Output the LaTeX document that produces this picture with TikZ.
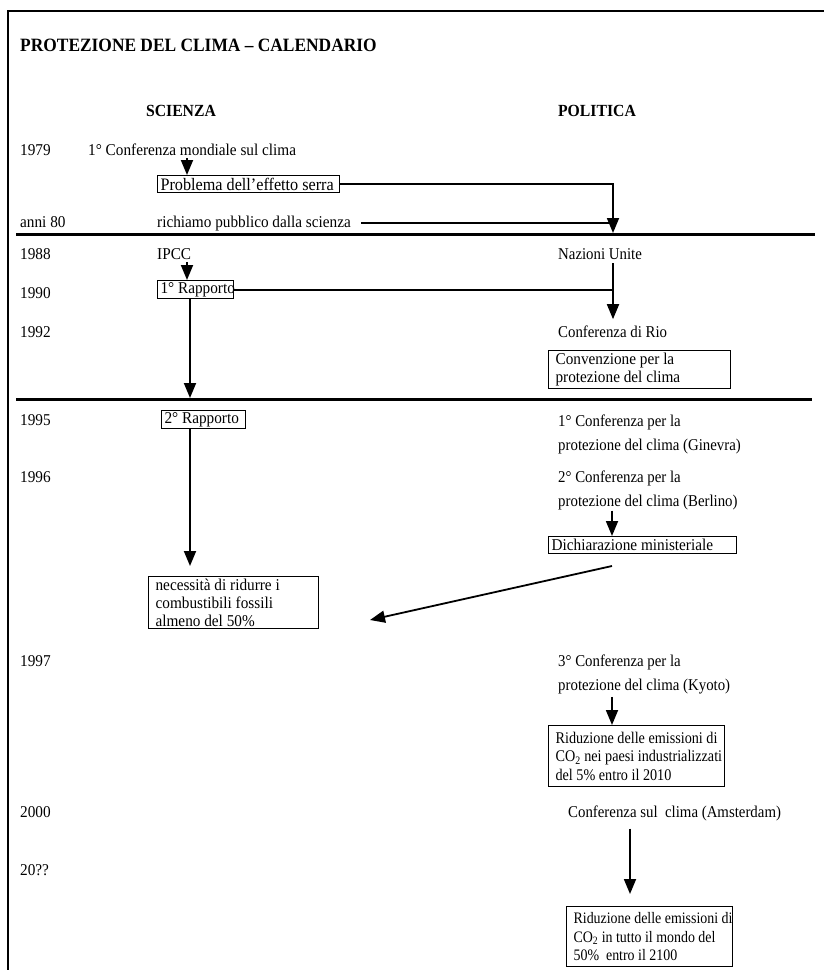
\documentclass[tikz,border=0pt]{standalone}
\usepackage{fontspec}
\setmainfont[FakeStretch=0.925]{Liberation Serif}
\newfontfamily\polfont[FakeStretch=0.9]{Liberation Serif}
\newfontfamily\narrowfont[FakeStretch=0.87]{Liberation Serif}
\usetikzlibrary{arrows.meta}
\begin{document}
\begin{tikzpicture}[x=1pt,y=-1pt,
 txt/.style={inner sep=0pt, anchor=base west, font=\fontsize{16.5}{18}\selectfont},
 ptxt/.style={inner sep=0pt, anchor=base west, align=left, font=\polfont\fontsize{16.5}{23.5}\selectfont},
 hdr/.style={inner sep=0pt, anchor=base, font=\fontsize{17}{19}\selectfont\bfseries},
 ttl/.style={inner sep=0pt, anchor=base west, font=\fontsize{18.8}{20}\selectfont\bfseries},
 bx/.style={draw, line width=1.2pt, anchor=north west, align=flush left, inner xsep=3pt, inner ysep=0pt, font=\fontsize{16.5}{18}\selectfont},
 bxm/.style={bx, inner xsep=7pt},
 bxs/.style={bxm, font=\narrowfont\fontsize{16.3}{18.5}\selectfont},
 conn/.style={line width=1.8pt},
 arr/.style={line width=1.8pt, -{Triangle[width=12pt,length=15pt]}},
 sepline/.style={line width=3pt},
 frame/.style={line width=2.5pt}]
\useasboundingbox (0,0) rectangle (824,970);
% frame
\coordinate (fr1) at (8,970);
\coordinate (fr2) at (8,11);
\coordinate (fr3) at (824,11);
\draw[frame] (fr1) -- (fr2) -- (fr3);
% separators
\coordinate (s1a) at (16,234);
\coordinate (s1b) at (815,234);
\coordinate (s2a) at (16,399);
\coordinate (s2b) at (812,399);
\draw[sepline] (s1a) -- (s1b);
\draw[sepline] (s2a) -- (s2b);
% headings
\node[ttl] (title) at (20,51) {PROTEZIONE DEL CLIMA – CALENDARIO};
\node[hdr] (sci) at (181,116) {SCIENZA};
\node[hdr] (pol) at (597,116) {POLITICA};
% years
\node[txt] (y1979) at (20,155) {1979};
\node[txt] (y80) at (20,227) {anni 80};
\node[txt] (y1988) at (20,259) {1988};
\node[txt] (y1990) at (20,298) {1990};
\node[txt] (y1992) at (20,337) {1992};
\node[txt] (y1995) at (20,425) {1995};
\node[txt] (y1996) at (20,482) {1996};
\node[txt] (y1997) at (20,666) {1997};
\node[txt] (y2000) at (20,817) {2000};
\node[txt] (y20) at (20,875) {20??};
% science column
\node[txt] (conf79) at (88,155) {1° Conferenza mondiale sul clima};
\node[bx, text width=176pt, minimum height=17pt, font=\fontsize{17.5}{18}\selectfont] (prob) at (157,175) {\mbox{Problema dell’effetto serra}};
\node[txt] (rich) at (157,227) {richiamo pubblico dalla scienza};
\node[txt] (ipcc) at (157,259) {IPCC};
\node[bx, text width=70pt, minimum height=18pt] (rap1) at (157,280) {\mbox{1° Rapporto}};
\node[bx, text width=78pt, minimum height=18pt] (rap2) at (161,410) {\mbox{2° Rapporto}};
\node[bxm, text width=156pt, minimum height=52pt] (nec) at (148,576) {\mbox{necessità di ridurre i}\\\mbox{combustibili fossili}\\\mbox{almeno del 50\%}};
% politics column
\node[txt, font=\polfont\fontsize{16.5}{18}\selectfont] (nu) at (558,259) {Nazioni Unite};
\node[txt, font=\polfont\fontsize{16.5}{18}\selectfont] (rio) at (558,337) {Conferenza di Rio};
\node[bxm, text width=168pt, minimum height=38pt] (conv) at (548,350) {\mbox{Convenzione per la}\\\mbox{protezione del clima}};
\node[ptxt] (gin) at (558,450) {1° Conferenza per la\\protezione del clima (Ginevra)};
\node[ptxt] (ber) at (558,506) {2° Conferenza per la\\protezione del clima (Berlino)};
\node[bx, text width=182pt, minimum height=17pt] (dich) at (548,536) {\mbox{Dichiarazione ministeriale}};
\node[ptxt] (kyo) at (558,690) {3° Conferenza per la\\protezione del clima (Kyoto)};
\node[bxs, text width=162pt, minimum height=61pt] (rid1) at (548,725) {\mbox{Riduzione delle emissioni di}\\\mbox{CO\textsubscript{2} nei paesi industrializzati}\\\mbox{del 5\% entro il 2010}};
\node[txt, font=\polfont\fontsize{16.5}{18}\selectfont] (ams) at (568,817) {Conferenza sul\ \ clima (Amsterdam)};
\node[bxs, text width=152pt, minimum height=60pt, font=\narrowfont\fontsize{16}{18.5}\selectfont] (rid2) at (566,906) {\mbox{Riduzione delle emissioni di}\\\mbox{CO\textsubscript{2} in tutto il mondo del}\\\mbox{50\%\ \ entro il 2100}};
% guide coordinates
\coordinate (xa) at (187,0);
\coordinate (xb) at (190,0);
\coordinate (xc) at (612,0);
\coordinate (xd) at (630,0);
\coordinate (sepA) at (613,233);
\coordinate (sepB) at (190,398);
\coordinate (j90) at (rap1.east -| sepA);
\coordinate (dstart) at (612,566);
\coordinate (dend) at (370,620);
% connectors
\draw[arr] ([yshift=-3pt]conf79.south -| xa) -- (prob.north -| xa);
\draw[arr] (prob.east) -| (sepA);
\draw[conn] ([xshift=10pt]rich.east) -- (rich.east -| sepA);
\draw[arr] ([yshift=-3pt]ipcc.south -| xa) -- (rap1.north -| xa);
\draw[conn] (rap1.east) -- (j90);
\draw[conn] ([yshift=-4pt]nu.south -| sepA) -- (j90);
\draw[arr] (j90) -- ([yshift=6pt]rio.north -| sepA);
\draw[arr] (rap1.south -| xb) -- (sepB);
\draw[arr] (rap2.south -| xb) -- ([yshift=10pt]nec.north -| xb);
\draw[arr] ([yshift=-1pt]ber.south -| xc) -- (dich.north -| xc);
\draw[arr] (dstart) -- (dend);
\draw[arr] ([yshift=-3pt]kyo.south -| xc) -- (rid1.north -| xc);
\draw[arr] ([yshift=-8pt]ams.south -| xd) -- ([yshift=12pt]rid2.north -| xd);
\end{tikzpicture}
\end{document}
